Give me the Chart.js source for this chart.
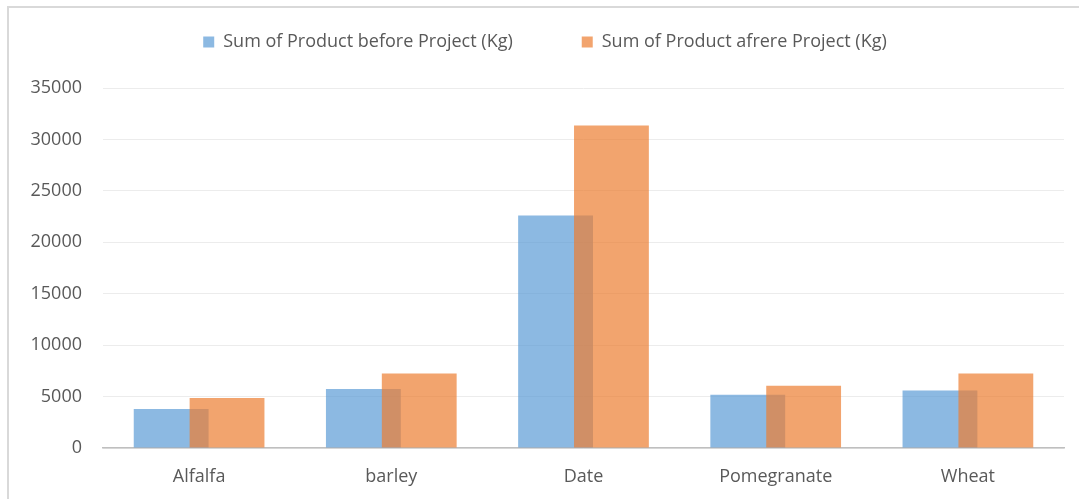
<!DOCTYPE html>
<html>
<head>
<meta charset="utf-8">
<script src="https://cdn.jsdelivr.net/npm/chart.js@4.4.1/dist/chart.umd.min.js"></script>
<style>
  html, body { margin: 0; padding: 0; background: #ffffff; }
  #frame {
    position: absolute; left: 7px; top: 6px; width: 1100px; height: 520px;
    border-left: 2px solid #d9d9d9; border-top: 2px solid #d9d9d9;
  }
  #chart { position: absolute; left: 0; top: 0; }
</style>
</head>
<body>
<div id="frame"></div>
<canvas id="chart" width="1079" height="499"></canvas>
<script>
// Crops and harvest totals (Kg)
const categories = ['Alfalfa', 'barley', 'Date', 'Pomegranate', 'Wheat'];
const beforeProject = [3780, 5740, 22610, 5180, 5600];
const afterProject = [4850, 7250, 31360, 6060, 7250];
const seriesNames = ['Sum of Product before Project (Kg)', 'Sum of Product afrere Project (Kg)'];
const yTicks = [0, 5000, 10000, 15000, 20000, 25000, 30000, 35000];

const FONT = "'Open Sans', 'DejaVu Sans', sans-serif";
const TEXT = '#595959';

// Give the legend a fixed block height so the plot starts lower on the page
const legendBlock = {
  id: 'legendBlock',
  beforeInit(chart) {
    const fit = chart.legend.fit;
    chart.legend.fit = function () {
      fit.call(this);
      this.height = 124;
    };
  }
};

// Paint the series in data order so the later series overlaps the earlier one
const paintInOrder = {
  id: 'paintInOrder',
  beforeDatasetDraw() { return false; },
  afterDatasetsDraw(chart) {
    const { ctx, chartArea } = chart;
    ctx.save();
    ctx.beginPath();
    ctx.rect(chartArea.left, chartArea.top, chartArea.right - chartArea.left, chartArea.bottom - chartArea.top);
    ctx.clip();
    chart.getSortedVisibleDatasetMetas().forEach(meta => meta.controller.draw());
    ctx.restore();
  }
};

new Chart(document.getElementById('chart'), {
  type: 'bar',
  data: {
    labels: categories,
    datasets: [
      {
        label: seriesNames[0],
        data: beforeProject,
        backgroundColor: 'rgba(91,155,213,0.7)',
        borderWidth: 0
      },
      {
        label: seriesNames[1],
        data: afterProject,
        backgroundColor: 'rgba(237,125,49,0.7)',
        borderWidth: 0
      }
    ]
  },
  options: {
    responsive: false,
    animation: false,
    categoryPercentage: 0.5815,
    barPercentage: 1.339,
    layout: { padding: { top: -36, left: 26, right: 15, bottom: 0 } },
    plugins: {
      legend: {
        position: 'top',
        labels: {
          boxWidth: 11,
          boxHeight: 11,
          padding: 69,
          color: TEXT,
          font: { family: FONT, size: 18 }
        }
      },
      tooltip: { enabled: false }
    },
    scales: {
      x: {
        grid: { display: false, drawTicks: false },
        border: { display: true, color: '#bfbfbf', width: 1.5 },
        ticks: { color: TEXT, font: { family: FONT, size: 18 }, padding: 18 },
        afterFit(scale) { scale.height = 51; }
      },
      y: {
        min: 0,
        max: 35000,
        afterBuildTicks(scale) { scale.ticks = yTicks.map(v => ({ value: v })); },
        grid: { color: '#ececec', lineWidth: 1, drawTicks: false },
        border: { display: false },
        ticks: {
          color: TEXT,
          font: { family: FONT, size: 18 },
          padding: 21,
          callback: v => String(v)
        },
        afterFit(scale) { scale.width = 77; }
      }
    }
  },
  plugins: [legendBlock, paintInOrder]
});
</script>
</body>
</html>
